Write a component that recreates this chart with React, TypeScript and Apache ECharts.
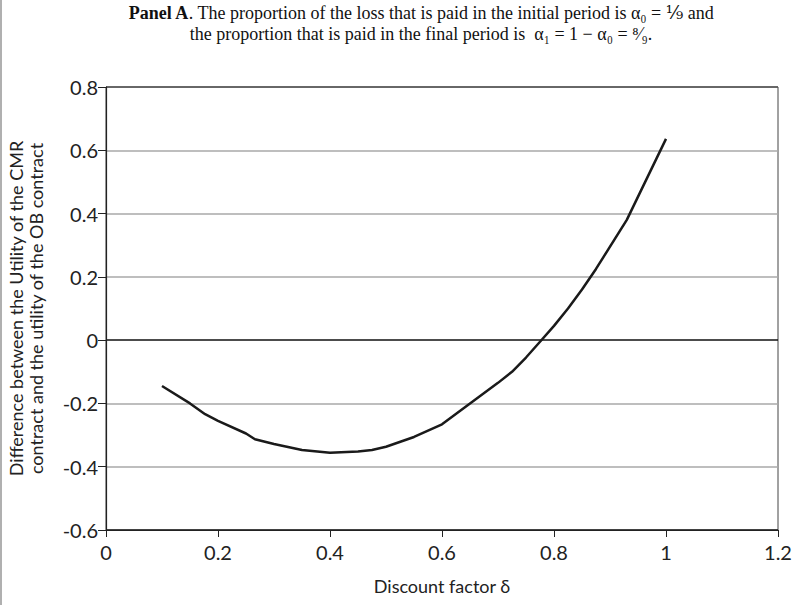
import React, { useEffect, useRef } from "react";
import * as echarts from "echarts";

const deltaValues = [0.1, 0.15, 0.177, 0.2, 0.25, 0.266, 0.3, 0.35, 0.4, 0.45, 0.475, 0.5, 0.55, 0.6, 0.65, 0.7, 0.725, 0.75, 0.775, 0.8, 0.825, 0.85, 0.875, 0.93, 1.0];
const utilityDiff = [-0.145, -0.2, -0.234, -0.255, -0.295, -0.313, -0.328, -0.347, -0.356, -0.352, -0.347, -0.337, -0.306, -0.266, -0.2, -0.135, -0.1, -0.055, -0.005, 0.045, 0.1, 0.16, 0.225, 0.38, 0.636];
const xTicks = [0, 0.2, 0.4, 0.6, 0.8, 1, 1.2];
const yTicks = [-0.6, -0.4, -0.2, 0, 0.2, 0.4, 0.6, 0.8];

const titleLine1Bold = "Panel A";
const titleLine1 = ". The proportion of the loss that is paid in the initial period is α₀ = ⅑ and";
const titleLine2 = "the proportion that is paid in the final period is  α₁ = 1 − α₀ = ⁸⁄₉.";
const xName = "Discount factor δ";
const yName = "Difference between the Utility of the CMR\ncontract and the utility of the OB contract";

export default function App() {
  const ref = useRef<HTMLDivElement>(null);
  useEffect(() => {
    const chart = echarts.init(ref.current!, null, { renderer: "svg" });
    const sans = "Lato, 'Open Sans', sans-serif";
    const serif = "'Liberation Serif', 'DejaVu Serif', serif";
    chart.setOption({
      animation: false,
      backgroundColor: "#fff",
      title: {
        left: 416,
        textAlign: "center",
        top: -3,
        text: `{b|${titleLine1Bold}}{n|${titleLine1}}\n{n|${titleLine2}}`,
        textStyle: {
          fontWeight: "normal",
          rich: {
            b: { fontFamily: serif, fontWeight: "bold", fontSize: 18, color: "#111", lineHeight: 21 },
            n: { fontFamily: serif, fontWeight: "normal", fontSize: 18, color: "#111", lineHeight: 21 },
          },
        },
      },
      graphic: [
        { type: "line", shape: { x1: 1, y1: 0, x2: 1, y2: 605 }, style: { stroke: "#b0b0b0", lineWidth: 2 } },
      ],
      grid: {
        left: 106, right: 17, top: 87, bottom: 75,
        outerBoundsMode: "none", containLabel: false,
        show: true, borderColor: "#444", borderWidth: 1, backgroundColor: "transparent",
      },
      xAxis: {
        type: "value",
        min: 0,
        max: 1.2,
        interval: 0.2,
        name: xName,
        nameLocation: "middle",
        nameGap: 47,
        nameTextStyle: { fontFamily: sans, fontSize: 18, color: "#222" },
        axisLine: { onZero: false, lineStyle: { color: "#222", width: 1.2 } },
        axisTick: { show: true, length: 7, lineStyle: { color: "#222" } },
        axisLabel: {
          fontFamily: sans,
          fontSize: 20,
          color: "#222",
          margin: 12,
          formatter: (v: number) => {
            const m = xTicks.find((t) => Math.abs(t - v) < 1e-9);
            return m === undefined ? "" : String(m);
          },
        },
        splitLine: { show: false },
      },
      yAxis: {
        type: "value",
        min: -0.6,
        max: 0.8,
        interval: 0.2,
        name: yName,
        nameLocation: "middle",
        nameGap: 60,
        nameTextStyle: { fontFamily: sans, fontSize: 18, color: "#222", lineHeight: 20 },
        axisLine: { lineStyle: { color: "#222", width: 1.2 } },
        axisTick: { show: true, length: 8, lineStyle: { color: "#222" } },
        axisLabel: {
          fontFamily: sans,
          fontSize: 20,
          color: "#222",
          margin: 8,
          formatter: (v: number) => {
            const m = yTicks.find((t) => Math.abs(t - v) < 1e-9);
            return m === undefined ? "" : String(m);
          },
        },
        splitLine: {
          show: true,
          lineStyle: { color: ["#222", "#a8a8a8", "#a8a8a8", "#111", "#a8a8a8", "#a8a8a8", "#a8a8a8", "#555"], width: 1.5 },
        },
      },
      series: [
        {
          type: "line",
          data: deltaValues.map((d, i) => [d, utilityDiff[i]]),
          showSymbol: false,
          lineStyle: { color: "#1a1a1a", width: 2.5 },
          z: 5,
        },
      ],
    });
    return () => chart.dispose();
  }, []);
  return <div ref={ref} style={{ position: "absolute", left: 0, top: 0, width: 795, height: 605 }} />;
}
